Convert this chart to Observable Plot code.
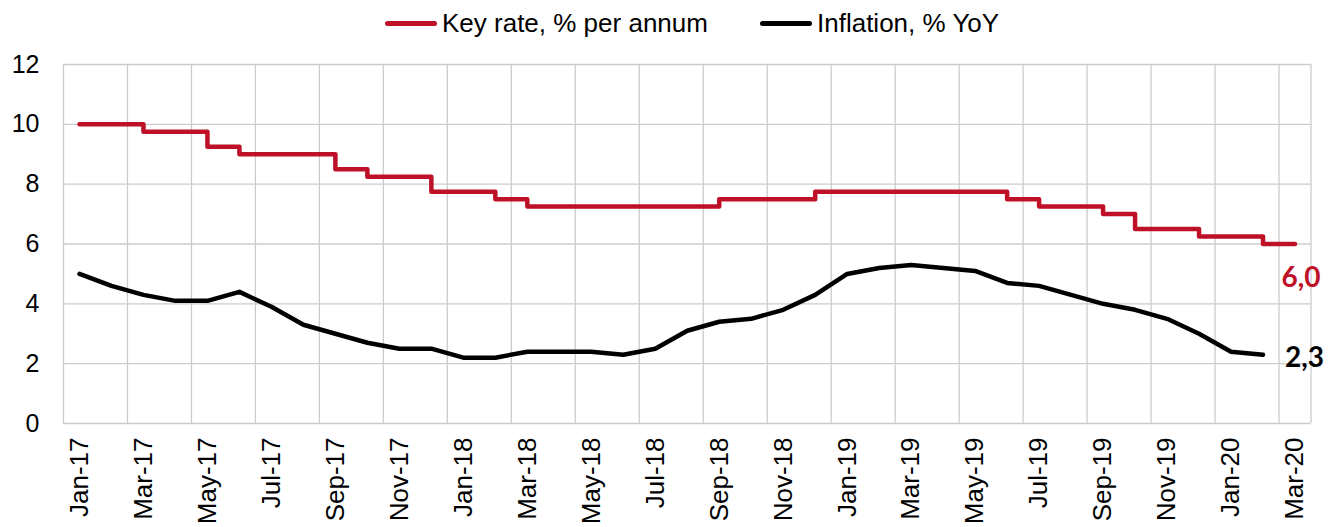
<!DOCTYPE html>
<html>
<head>
<meta charset="utf-8">
<script src="https://cdn.jsdelivr.net/npm/d3@7"></script>
<script src="https://cdn.jsdelivr.net/npm/@observablehq/plot@0.6"></script>
<style>
  html, body { margin: 0; padding: 0; background: #fff; }
  #wrap { position: relative; width: 1328px; height: 527px; overflow: hidden; font-family: "Liberation Sans", Arial, sans-serif; }
  #legend { position: relative; height: 46px; }
  .item { position: absolute; top: 8px; display: flex; align-items: center; font-size: 26px; color: #000; white-space: nowrap; }
  .sw { width: 52px; height: 5px; border-radius: 3px; margin-right: 5px; }
</style>
</head>
<body>
<div id="wrap">
  <div id="legend"></div>
  <div id="chart"></div>
</div>
<script>
const months = ["Jan-17","Feb-17","Mar-17","Apr-17","May-17","Jun-17","Jul-17","Aug-17","Sep-17","Oct-17","Nov-17","Dec-17",
  "Jan-18","Feb-18","Mar-18","Apr-18","May-18","Jun-18","Jul-18","Aug-18","Sep-18","Oct-18","Nov-18","Dec-18",
  "Jan-19","Feb-19","Mar-19","Apr-19","May-19","Jun-19","Jul-19","Aug-19","Sep-19","Oct-19","Nov-19","Dec-19",
  "Jan-20","Feb-20","Mar-20"];
const keyRate = [10,10,9.75,9.75,9.25,9,9,9,8.5,8.25,8.25,7.75,
  7.75,7.5,7.25,7.25,7.25,7.25,7.25,7.25,7.5,7.5,7.5,7.75,
  7.75,7.75,7.75,7.75,7.75,7.5,7.25,7.25,7,6.5,6.5,6.25,
  6.25,6,6];
const inflation = [5.0,4.6,4.3,4.1,4.1,4.4,3.9,3.3,3.0,2.7,2.5,2.5,
  2.2,2.2,2.4,2.4,2.4,2.3,2.5,3.1,3.4,3.5,3.8,4.3,
  5.0,5.2,5.3,5.2,5.1,4.7,4.6,4.3,4.0,3.8,3.5,3.0,
  2.4,2.3];
const seriesNames = ["Key rate, % per annum", "Inflation, % YoY"];
const seriesColors = ["#BE1128", "#000000"];
const yTicks = [0, 2, 4, 6, 8, 10, 12];

const fmt = v => d3.format(".1f")(v).replace(".", ",");

const rateData = keyRate.map((v, i) => ({i, v}));
const inflData = inflation.map((v, i) => ({i, v}));
const lastRate = rateData[rateData.length - 1];
const lastInfl = inflData[inflData.length - 1];
const xTickIdx = months.map((m, i) => i).filter(i => i % 2 === 0);
const xGrid = d3.range(-0.5, months.length, 2).concat([months.length - 0.5]);

// legend
const legend = document.getElementById("legend");
const lefts = [385, 760];
seriesNames.forEach((name, k) => {
  const it = document.createElement("div");
  it.className = "item";
  it.style.left = lefts[k] + "px";
  it.innerHTML = `<span class="sw" style="background:${seriesColors[k]}"></span><span>${name}</span>`;
  legend.appendChild(it);
});

const chart = Plot.plot({
  width: 1328,
  height: 481,
  marginTop: 18,
  marginBottom: 104,
  marginLeft: 63,
  marginRight: 17.5,
  style: {fontFamily: "Liberation Sans, Arial, sans-serif", background: "#fff", overflow: "visible"},
  x: {type: "linear", domain: [-0.5, months.length - 0.5]},
  y: {domain: [0, 12]},
  marks: [
    Plot.ruleY(yTicks, {stroke: "#cccccc", strokeWidth: 1.3}),
    Plot.ruleX(xGrid, {stroke: "#cccccc", strokeWidth: 1.3}),
    Plot.axisY({ticks: yTicks, tickSize: 0, tickPadding: 24, fontSize: 25, label: null, tickFormat: d => d}),
    Plot.axisX({ticks: xTickIdx, tickFormat: i => months[i], tickRotate: -90, tickSize: 0, tickPadding: 14, fontSize: 26, label: null}),
    Plot.line(rateData, {x: "i", y: "v", curve: "step-after", stroke: seriesColors[0], strokeWidth: 4.5, strokeLinecap: "round", strokeLinejoin: "round"}),
    Plot.line(inflData, {x: "i", y: "v", stroke: seriesColors[1], strokeWidth: 4.5, strokeLinecap: "round", strokeLinejoin: "round"}),
    Plot.text([lastRate], {x: "i", y: "v", text: d => fmt(d.v), dx: 6, dy: 34, fill: seriesColors[0], fontSize: 28, fontWeight: "bold", fontFamily: "Lato, sans-serif", textAnchor: "middle"}),
    Plot.text([lastInfl], {x: "i", y: "v", text: d => fmt(d.v), dx: 22, dy: 3, fill: seriesColors[1], fontSize: 28, fontWeight: "bold", fontFamily: "Lato, sans-serif", textAnchor: "start"})
  ]
});
document.getElementById("chart").appendChild(chart);
</script>
</body>
</html>
